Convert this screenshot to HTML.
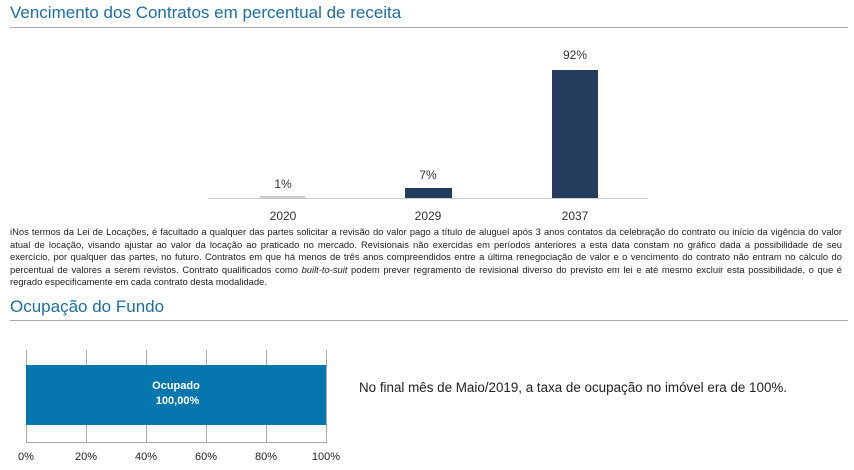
<!DOCTYPE html>
<html><head><meta charset="utf-8"><style>
body{margin:0;width:854px;height:470px;background:#fff;position:relative;overflow:hidden;font-family:"Liberation Sans",sans-serif;color:#222}
.a{position:absolute}
.t{position:absolute;font-size:17px;color:#1a6fa6;left:10px}
.r{position:absolute;left:10px;width:838px;height:1px;background:#aaa}
.c{position:absolute;font-size:12px;color:#333;text-align:center;width:60px}
.fn{position:absolute;left:10px;top:226px;width:832px;font-size:9.4px;line-height:12.5px;text-align:justify;color:#222}
.g{position:absolute;top:350px;height:92px;width:1px;background:#aaa}
.x{position:absolute;top:451px;font-size:11px;width:50px;text-align:center;color:#222}
</style></head><body>
<div class="t" style="top:3px">Vencimento dos Contratos em percentual de receita</div>
<div class="r" style="top:27px"></div>
<div class="a" style="left:208px;top:198px;width:440px;height:1px;background:#ccc"></div>
<div class="a" style="left:260px;top:196px;width:45px;height:2px;background:#ccc"></div>
<div class="a" style="left:405px;top:188px;width:47px;height:10px;background:#243d5e"></div>
<div class="a" style="left:552px;top:70px;width:46px;height:128px;background:#243d5e"></div>
<div class="c" style="left:253px;top:177px">1%</div>
<div class="c" style="left:398px;top:168px">7%</div>
<div class="c" style="left:545px;top:48px">92%</div>
<div class="c" style="left:253px;top:209px">2020</div>
<div class="c" style="left:398px;top:209px">2029</div>
<div class="c" style="left:545px;top:209px">2037</div>
<div class="fn">iNos termos da Lei de Locações, é facultado a qualquer das partes solicitar a revisão do valor pago a título de aluguel após 3 anos contatos da celebração do contrato ou início da vigência do valor atual de locação, visando ajustar ao valor da locação ao praticado no mercado. Revisionais não exercidas em períodos anteriores a esta data constam no gráfico dada a possibilidade de seu exercício, por qualquer das partes, no futuro. Contratos em que há menos de três anos compreendidos entre a última renegociação de valor e o vencimento do contrato não entram no cálculo do percentual de valores a serem revistos. Contrato qualificados como <i>built-to-suit</i> podem prever regramento de revisional diverso do previsto em lei e até mesmo excluir esta possibilidade, o que é regrado especificamente em cada contrato desta modalidade.</div>
<div class="t" style="top:297px">Ocupação do Fundo</div>
<div class="r" style="top:320px"></div>
<div class="g" style="left:26px"></div><div class="g" style="left:86px"></div><div class="g" style="left:146px"></div><div class="g" style="left:206px"></div><div class="g" style="left:266px"></div><div class="g" style="left:326px"></div>
<div class="a" style="left:26px;top:442px;width:301px;height:1px;background:#aaa"></div>
<div class="a" style="left:26px;top:365px;width:300px;height:60px;background:#0577ae;color:#fff;font-weight:bold;font-size:11px;text-align:center;line-height:15px;box-sizing:border-box;padding-top:14px">Ocupado<br>&nbsp;100,00%</div>
<div class="x" style="left:1px">0%</div><div class="x" style="left:61px">20%</div><div class="x" style="left:121px">40%</div><div class="x" style="left:181px">60%</div><div class="x" style="left:241px">80%</div><div class="x" style="left:301px">100%</div>
<div class="a" style="left:359px;top:380px;font-size:13.4px;color:#222">No final mês de Maio/2019, a taxa de ocupação no imóvel era de 100%.</div>
</body></html>
